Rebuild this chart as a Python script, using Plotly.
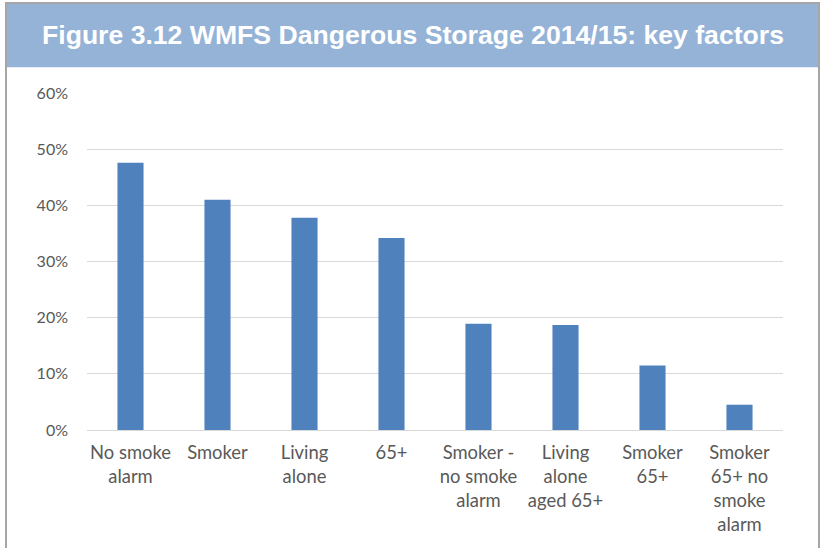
import plotly.graph_objects as go

categories = ["No smoke<br>alarm", "Smoker", "Living<br>alone", "65+",
              "Smoker -<br>no smoke<br>alarm", "Living<br>alone<br>aged 65+",
              "Smoker<br>65+", "Smoker<br>65+ no<br>smoke<br>alarm"]
values = [0.476, 0.410, 0.378, 0.342, 0.189, 0.187, 0.115, 0.045]
tick_vals = [0, 0.1, 0.2, 0.3, 0.4, 0.5, 0.6]
tick_text = ["0%", "10%", "20%", "30%", "40%", "50%", "60%"]
title_text = "Figure 3.12 WMFS Dangerous Storage 2014/15: key factors"

W, H = 821, 548
L, R, T, B = 87, 783, 93.3, 430
pw, ph = R - L, B - T


def px(x):
    return (x - L) / pw


def py(y):
    return (B - y) / ph


fig = go.Figure(go.Bar(x=categories, y=values, marker_color="#4F81BD",
                       marker_line_width=0))

fig.update_layout(
    width=W, height=H,
    margin=dict(l=L, r=W - R, t=T, b=H - B, pad=0),
    paper_bgcolor="white", plot_bgcolor="white",
    bargap=0.70,
    showlegend=False,
    font=dict(family="Lato", color="#595959"),
    xaxis=dict(showgrid=False, showline=True, linecolor="#D9D9D9", linewidth=1,
               ticks="", ticklabelstandoff=6,
               tickfont=dict(size=18.4, family="Lato", color="#595959"),
               tickangle=0, fixedrange=True),
    yaxis=dict(range=[0, 0.6], tickvals=tick_vals, ticktext=tick_text,
               showgrid=True, gridcolor="#D9D9D9", gridwidth=1, zeroline=False,
               showline=False, ticks="", ticklabelstandoff=18,
               tickfont=dict(size=16, family="Lato", color="#595959"),
               fixedrange=True),
    shapes=[
        dict(type="rect", xref="paper", yref="paper",
             x0=px(6), x1=px(819), y0=py(67.5), y1=py(3.5),
             fillcolor="#95B3D7", line=dict(width=0), layer="below"),
        dict(type="rect", xref="paper", yref="paper",
             x0=px(6), x1=px(819), y0=py(560), y1=py(3.5),
             fillcolor="rgba(0,0,0,0)", line=dict(color="#A6A6A6", width=2)),
    ],
    annotations=[
        dict(text="<b>" + title_text + "</b>", xref="paper", yref="paper",
             x=px(413), y=py(35.5), xanchor="center", yanchor="middle",
             showarrow=False,
             font=dict(family="Liberation Sans, Arial", size=26.6, color="white")),
    ],
)

fig.write_html("out.html", config={"displayModeBar": False},
               post_script="document.body.style.margin='0';document.body.style.overflow='hidden';")
